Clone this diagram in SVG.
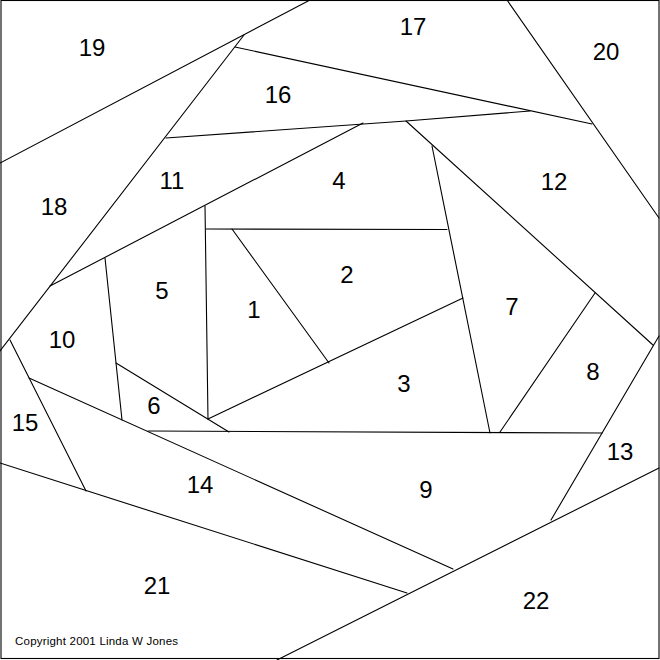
<svg xmlns="http://www.w3.org/2000/svg" width="660" height="660" viewBox="0 0 660 660">
<style>
.ln{stroke:#000;stroke-width:1.1;fill:none;stroke-linecap:round}
.lb{font-family:"Liberation Sans",Arial,sans-serif;font-size:24px;fill:#000;text-anchor:middle}
.cp{font-family:"Liberation Sans",Arial,sans-serif;font-size:11.5px;fill:#000}
</style>
<rect x="0" y="0" width="660" height="660" fill="#fff"/>
<g id="lines">
<rect class="ln" x="1" y="0.5" width="658" height="658" stroke-width="1.4"/>
<line class="ln" x1="310" y1="0" x2="0" y2="163"/>
<line class="ln" x1="244" y1="35" x2="0" y2="351"/>
<line class="ln" x1="235" y1="47" x2="592" y2="124"/>
<line class="ln" x1="507" y1="0" x2="659" y2="218"/>
<polyline class="ln" points="166,138 406,121 530,111"/>
<line class="ln" x1="50" y1="286" x2="363" y2="123"/>
<line class="ln" x1="105" y1="258" x2="122" y2="420"/>
<line class="ln" x1="205" y1="206" x2="208" y2="419"/>
<line class="ln" x1="206" y1="229" x2="447" y2="229.5"/>
<line class="ln" x1="232" y1="229" x2="329" y2="363"/>
<line class="ln" x1="208" y1="419" x2="463" y2="298"/>
<line class="ln" x1="406" y1="121" x2="653" y2="345"/>
<line class="ln" x1="432" y1="146" x2="490" y2="433"/>
<line class="ln" x1="595" y1="293" x2="500" y2="432"/>
<line class="ln" x1="148" y1="431" x2="602" y2="433"/>
<line class="ln" x1="116" y1="363" x2="229" y2="432"/>
<line class="ln" x1="10" y1="340" x2="86" y2="491"/>
<line class="ln" x1="29" y1="378" x2="453" y2="569"/>
<line class="ln" x1="0" y1="463" x2="407" y2="593"/>
<line class="ln" x1="659" y1="468" x2="277" y2="660"/>
<line class="ln" x1="551" y1="520" x2="659" y2="336"/>
</g>
<g id="labels">
<text id="p1" class="lb" x="254" y="318">1</text>
<text id="p2" class="lb" x="347" y="283">2</text>
<text id="p3" class="lb" x="404" y="392">3</text>
<text id="p4" class="lb" x="339" y="189">4</text>
<text id="p5" class="lb" x="162" y="299">5</text>
<text id="p6" class="lb" x="154" y="414">6</text>
<text id="p7" class="lb" x="512" y="315">7</text>
<text id="p8" class="lb" x="593" y="380">8</text>
<text id="p9" class="lb" x="426" y="498">9</text>
<text id="p10" class="lb" x="62" y="348">10</text>
<text id="p11" class="lb" x="172" y="189">11</text>
<text id="p12" class="lb" x="554" y="190">12</text>
<text id="p13" class="lb" x="620" y="460">13</text>
<text id="p14" class="lb" x="200" y="493">14</text>
<text id="p15" class="lb" x="25" y="431">15</text>
<text id="p16" class="lb" x="278" y="103">16</text>
<text id="p17" class="lb" x="413" y="35">17</text>
<text id="p18" class="lb" x="54" y="215">18</text>
<text id="p19" class="lb" x="92" y="56">19</text>
<text id="p20" class="lb" x="606" y="60">20</text>
<text id="p21" class="lb" x="157" y="594">21</text>
<text id="p22" class="lb" x="536" y="609">22</text>
<text id="copyright" class="cp" x="15" y="645" textLength="163" lengthAdjust="spacing">Copyright 2001 Linda W Jones</text>
</g>
</svg>
